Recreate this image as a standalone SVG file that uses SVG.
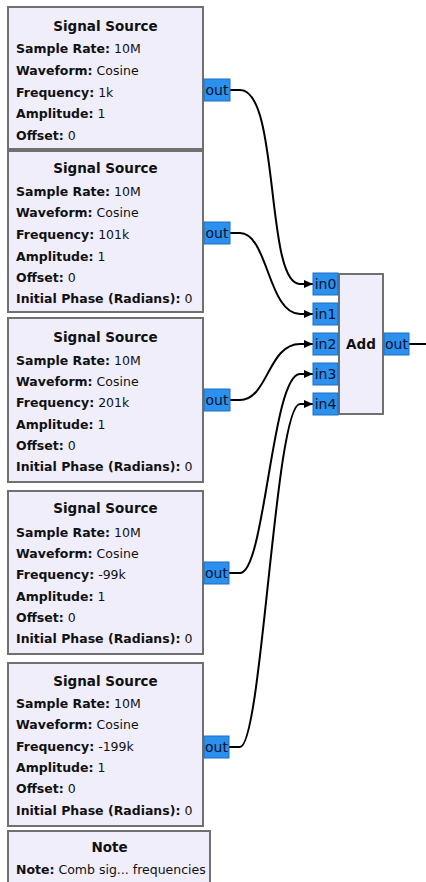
<svg xmlns="http://www.w3.org/2000/svg" width="426" height="882" viewBox="0 0 426 882">
<style>
.blk{fill:#F0EEFB;stroke:#707070;stroke-width:2}
.port{fill:#2B90EE;stroke:#1F6FC0;stroke-width:1}
.t{font-family:"DejaVu Sans",Verdana,sans-serif;font-size:12.5px;fill:#111}
.b{font-weight:bold}
.ttl{font-family:"DejaVu Sans",Verdana,sans-serif;font-size:13.5px;font-weight:bold;fill:#111;text-anchor:middle}
.pt{font-family:"DejaVu Sans",Verdana,sans-serif;font-size:14px;fill:#06122A;text-anchor:middle}
.wire{fill:none;stroke:#000;stroke-width:2}
</style>
<defs>
<marker id="arr" markerWidth="10" markerHeight="10" refX="9" refY="5" orient="auto" markerUnits="userSpaceOnUse">
<path d="M0,1 L9,5 L0,9 Z" fill="#000"/>
</marker>
</defs>
<g id="connectors">
<path class="wire" marker-end="url(#arr)" d="M230,90 L240,90 C280,90 265,284 300,284 L313,284"/>
<path class="wire" marker-end="url(#arr)" d="M230,233 L240,233 C268,233 268,314 300,314 L313,314"/>
<path class="wire" marker-end="url(#arr)" d="M230,400 L240,400 C268,400 268,344 300,344 L313,344"/>
<path class="wire" marker-end="url(#arr)" d="M229,573 L240,573 C265,573 272,374 300,374 L313,374"/>
<path class="wire" marker-end="url(#arr)" d="M229,747 L240,747 C262,747 275,404 300,404 L313,404"/>
<path class="wire" d="M409,344 L426,344"/>
</g>
<g id="src1">
<rect class="blk" x="8" y="7" width="195" height="142"/>
<text class="ttl" x="105.5" y="31">Signal Source</text>
<text class="t" x="16" y="53"><tspan class="b">Sample Rate:</tspan> 10M</text>
<text class="t" x="16" y="75"><tspan class="b">Waveform:</tspan> Cosine</text>
<text class="t" x="16" y="97"><tspan class="b">Frequency:</tspan> 1k</text>
<text class="t" x="16" y="118"><tspan class="b">Amplitude:</tspan> 1</text>
<text class="t" x="16" y="140"><tspan class="b">Offset:</tspan> 0</text>
<rect class="port" x="204" y="79" width="26" height="22"/>
<text class="pt" x="217" y="95">out</text>
</g>
<g id="src2">
<rect class="blk" x="8" y="151" width="195" height="161"/>
<text class="ttl" x="105.5" y="173">Signal Source</text>
<text class="t" x="16" y="196"><tspan class="b">Sample Rate:</tspan> 10M</text>
<text class="t" x="16" y="217"><tspan class="b">Waveform:</tspan> Cosine</text>
<text class="t" x="16" y="239"><tspan class="b">Frequency:</tspan> 101k</text>
<text class="t" x="16" y="261"><tspan class="b">Amplitude:</tspan> 1</text>
<text class="t" x="16" y="282"><tspan class="b">Offset:</tspan> 0</text>
<text class="t" x="16" y="303"><tspan class="b">Initial Phase (Radians):</tspan> 0</text>
<rect class="port" x="204" y="222" width="26" height="22"/>
<text class="pt" x="217" y="238">out</text>
</g>
<g id="src3">
<rect class="blk" x="8" y="318" width="195" height="164"/>
<text class="ttl" x="105.5" y="342">Signal Source</text>
<text class="t" x="16" y="365"><tspan class="b">Sample Rate:</tspan> 10M</text>
<text class="t" x="16" y="386"><tspan class="b">Waveform:</tspan> Cosine</text>
<text class="t" x="16" y="407"><tspan class="b">Frequency:</tspan> 201k</text>
<text class="t" x="16" y="429"><tspan class="b">Amplitude:</tspan> 1</text>
<text class="t" x="16" y="450"><tspan class="b">Offset:</tspan> 0</text>
<text class="t" x="16" y="471"><tspan class="b">Initial Phase (Radians):</tspan> 0</text>
<rect class="port" x="204" y="389" width="26" height="22"/>
<text class="pt" x="217" y="405">out</text>
</g>
<g id="src4">
<rect class="blk" x="8" y="491" width="195" height="163"/>
<text class="ttl" x="105.5" y="513">Signal Source</text>
<text class="t" x="16" y="537"><tspan class="b">Sample Rate:</tspan> 10M</text>
<text class="t" x="16" y="558"><tspan class="b">Waveform:</tspan> Cosine</text>
<text class="t" x="16" y="579"><tspan class="b">Frequency:</tspan> -99k</text>
<text class="t" x="16" y="601"><tspan class="b">Amplitude:</tspan> 1</text>
<text class="t" x="16" y="622"><tspan class="b">Offset:</tspan> 0</text>
<text class="t" x="16" y="643"><tspan class="b">Initial Phase (Radians):</tspan> 0</text>
<rect class="port" x="204" y="562" width="25" height="22"/>
<text class="pt" x="216.5" y="578">out</text>
</g>
<g id="src5">
<rect class="blk" x="8" y="663" width="195" height="163"/>
<text class="ttl" x="105.5" y="686">Signal Source</text>
<text class="t" x="16" y="708"><tspan class="b">Sample Rate:</tspan> 10M</text>
<text class="t" x="16" y="729"><tspan class="b">Waveform:</tspan> Cosine</text>
<text class="t" x="16" y="751"><tspan class="b">Frequency:</tspan> -199k</text>
<text class="t" x="16" y="772"><tspan class="b">Amplitude:</tspan> 1</text>
<text class="t" x="16" y="793"><tspan class="b">Offset:</tspan> 0</text>
<text class="t" x="16" y="815"><tspan class="b">Initial Phase (Radians):</tspan> 0</text>
<rect class="port" x="204" y="736" width="25" height="22"/>
<text class="pt" x="216.5" y="752">out</text>
</g>
<g id="note">
<rect class="blk" x="8" y="831" width="202" height="60"/>
<text class="ttl" x="109.5" y="852">Note</text>
<text class="t" x="16" y="874"><tspan class="b">Note:</tspan> Comb sig... frequencies</text>
</g>
<g id="add">
<rect class="blk" x="339" y="274" width="44" height="140"/>
<text class="ttl" x="361" y="349">Add</text>
<rect class="port" x="313" y="273" width="25" height="22"/>
<text class="pt" x="325.5" y="289">in0</text>
<rect class="port" x="313" y="303" width="25" height="22"/>
<text class="pt" x="325.5" y="319">in1</text>
<rect class="port" x="313" y="333" width="25" height="22"/>
<text class="pt" x="325.5" y="349">in2</text>
<rect class="port" x="313" y="363" width="25" height="22"/>
<text class="pt" x="325.5" y="379">in3</text>
<rect class="port" x="313" y="393" width="25" height="22"/>
<text class="pt" x="325.5" y="409">in4</text>
<rect class="port" x="384" y="333" width="25" height="22"/>
<text class="pt" x="396.5" y="349">out</text>
</g>
</svg>
